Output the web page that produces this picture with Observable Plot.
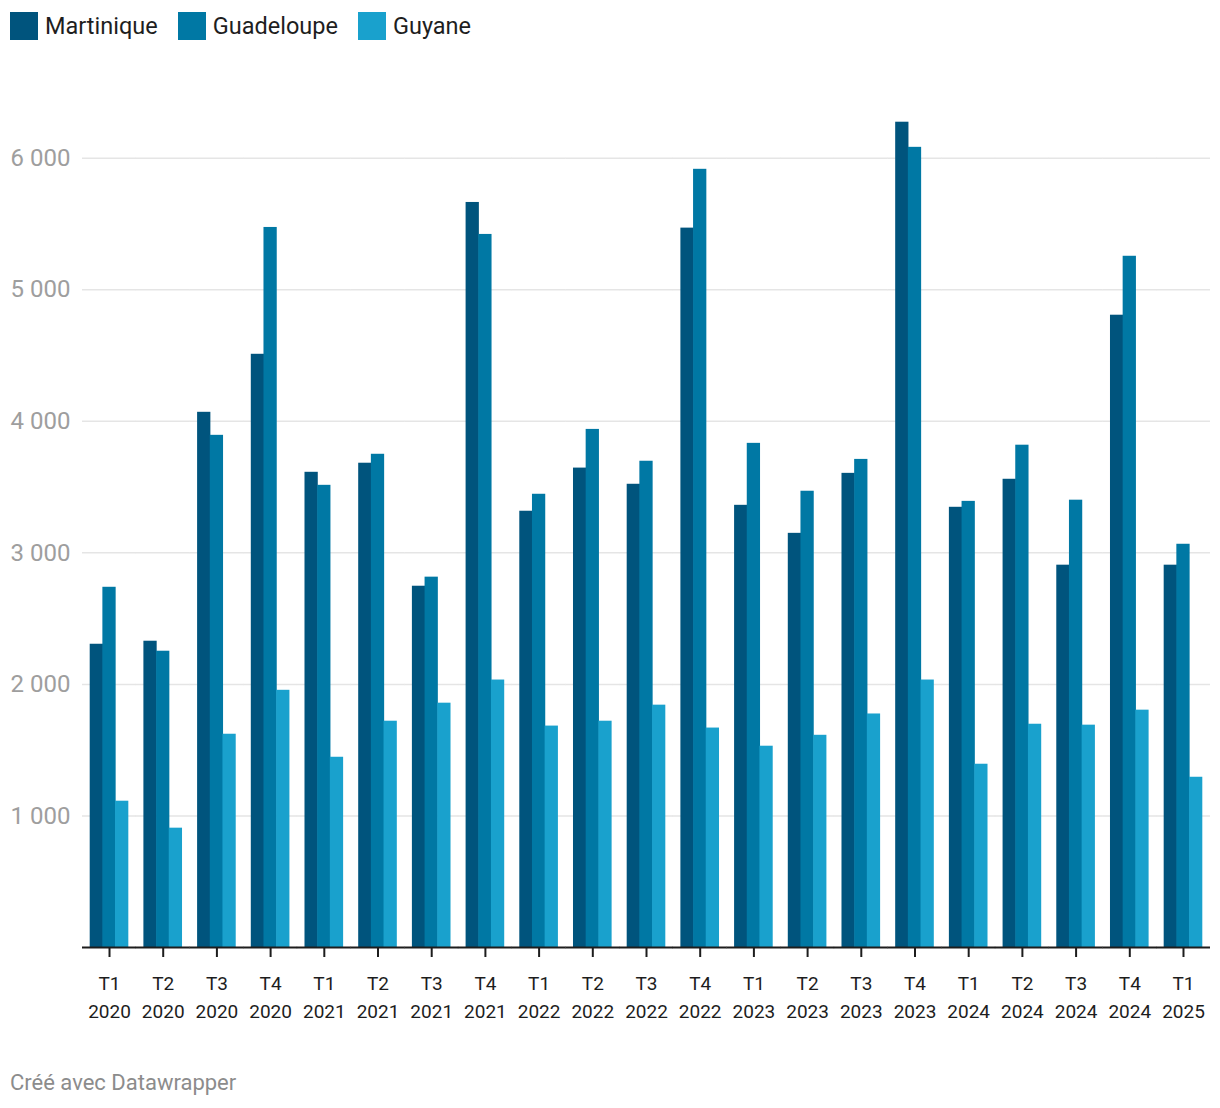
<!DOCTYPE html>
<html>
<head>
<meta charset="utf-8">
<script src="https://cdn.jsdelivr.net/npm/d3@7"></script>
<script src="https://cdn.jsdelivr.net/npm/@observablehq/plot@0.6"></script>
<style>
  html, body { margin: 0; padding: 0; background: #fff; }
  body { width: 1220px; font-family: Roboto, "Noto Sans", sans-serif; }
  #legend { height: 60px; box-sizing: border-box; padding: 12px 0 0 10px; display: flex; align-items: flex-start; }
  .item { display: flex; align-items: center; height: 28px; font-size: 23.5px; color: #1e1e1e; margin-right: 20px; }
  .sw { width: 28px; height: 28px; margin-right: 7px; }
  #credit { font-size: 22px; color: #8c8c8c; padding-left: 10px; margin-top: 20px; line-height: 26px; }
  svg { display: block; }
</style>
</head>
<body>
<div id="legend"></div>
<div id="chart"></div>
<div id="credit">Créé avec Datawrapper</div>
<script>
const regions = ["Martinique", "Guadeloupe", "Guyane"];
const colors = ["#00547d", "#0078a4", "#19a1cd"];
const periods = [
  "T1 2020", "T2 2020", "T3 2020", "T4 2020",
  "T1 2021", "T2 2021", "T3 2021", "T4 2021",
  "T1 2022", "T2 2022", "T3 2022", "T4 2022",
  "T1 2023", "T2 2023", "T3 2023", "T4 2023",
  "T1 2024", "T2 2024", "T3 2024", "T4 2024",
  "T1 2025"
];
const martinique = [2305, 2328, 4068, 4509, 3612, 3681, 2746, 5663, 3316, 3644, 3521, 5468, 3361, 3148, 3604, 6273, 3346, 3559, 2906, 4806, 2906];
const guadeloupe = [2738, 2252, 3893, 5473, 3513, 3749, 2815, 5420, 3445, 3938, 3696, 5915, 3832, 3468, 3710, 6082, 3391, 3818, 3400, 5254, 3065];
const guyane = [1112, 907, 1621, 1955, 1446, 1720, 1857, 2033, 1683, 1720, 1842, 1668, 1530, 1613, 1775, 2033, 1393, 1697, 1690, 1804, 1294];
const yTicks = [1000, 2000, 3000, 4000, 5000, 6000];

const series = [martinique, guadeloupe, guyane];
const data = [];
periods.forEach((p, i) => {
  regions.forEach((r, j) => data.push({period: p, region: r, value: series[j][i]}));
});

// legend
const legend = document.getElementById("legend");
regions.forEach((r, i) => {
  const it = document.createElement("div");
  it.className = "item";
  it.innerHTML = `<span class="sw" style="background:${colors[i]}"></span><span>${r}</span>`;
  legend.appendChild(it);
});

const fmt = d => d3.format(",")(d).replace(/,/g, " ");

const chart = Plot.plot({
  width: 1220,
  height: 990,
  marginLeft: 82,
  marginRight: 10,
  marginTop: 45,
  marginBottom: 103,
  style: {fontFamily: "Roboto, 'Noto Sans', sans-serif", background: "transparent"},
  fx: {domain: periods, paddingInner: 0.292, paddingOuter: 0.149, round: false, label: null, axis: null},
  x: {domain: regions, padding: 0, round: false, axis: null},
  y: {domain: [0, 6400], axis: null},
  color: {domain: regions, range: colors},
  marks: [
    Plot.ruleY(yTicks, {stroke: "#e5e5e5", strokeWidth: 1.5, insetLeft: -8, insetRight: -8}),
    Plot.barY(data, {fx: "period", x: "region", y: "value", fill: "region", insetLeft: -0.3, insetRight: -0.3}),
    Plot.ruleY([0], {stroke: "#1d1d1d", strokeWidth: 2, insetLeft: -8, insetRight: -8}),
    Plot.axisY({ticks: yTicks, tickSize: 0, tickPadding: 20, tickFormat: fmt, fontSize: 24, color: "#9e9e9e", label: null}),
    Plot.axisFx({anchor: "bottom", tickSize: 10, tickPadding: 13, strokeWidth: 2, color: "#1d1d1d", fontSize: 19, lineHeight: 1.47, label: null,
      tickFormat: d => d.replace(" ", "\n")})
  ]
});
document.getElementById("chart").appendChild(chart);
</script>
</body>
</html>
